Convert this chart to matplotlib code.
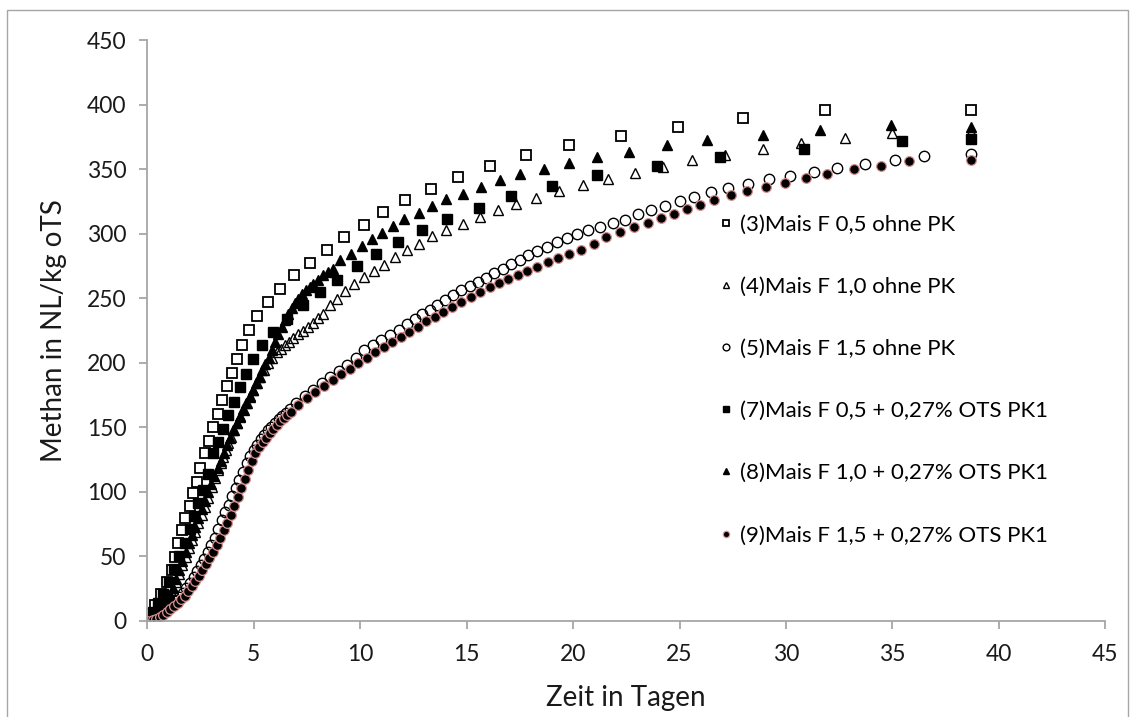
import matplotlib
matplotlib.use("Agg")
import matplotlib.pyplot as plt
from matplotlib.patches import Rectangle

plt.rcParams['font.family'] = ['Lato', 'DejaVu Sans']

# (Tage, NL/kg oTS)
s3 = [(0, 0), (0.16, 5), (0.36, 12), (0.63, 21), (0.91, 29.7), (1.15, 39), (1.3, 49.6),
      (1.45, 60), (1.62, 70.3), (1.79, 79.3), (2.0, 88.8), (2.16, 98.7), (2.32, 107.7),
      (2.48, 118), (2.71, 129.7), (2.91, 139.4), (3.1, 149.8), (3.31, 160.6), (3.53, 171),
      (3.76, 181.8), (3.97, 192.1), (4.2, 203.2), (4.44, 214.1), (4.78, 225.2), (5.14, 236),
      (5.66, 247.1), (6.21, 256.9), (6.9, 267.8), (7.65, 277.6), (8.43, 287.6), (9.25, 297.5),
      (10.16, 307), (11.07, 316.6), (12.12, 325.9), (13.34, 334.4), (14.58, 343.9),
      (16.08, 352.4), (17.8, 361.3), (19.81, 369), (22.24, 375.6), (24.94, 383.1),
      (27.97, 389.8), (31.82, 396.2), (38.7, 396.2)]

s4 = [(0, 0), (0.15, 1), (0.3, 3), (0.45, 5), (0.6, 8), (0.75, 11), (0.9, 15), (1.05, 19.5),
      (1.2, 24), (1.35, 30), (1.5, 36.5), (1.65, 43), (1.8, 49.5), (1.95, 56), (2.1, 62.5),
      (2.25, 69), (2.4, 75.5), (2.55, 82), (2.7, 88.5), (2.85, 95), (3.03, 103.8), (3.18, 110.5),
      (3.34, 117), (3.46, 122), (3.57, 127), (3.69, 132), (3.81, 137.4), (3.93, 142.5),
      (4.04, 147.7), (4.2, 153), (4.36, 158), (4.52, 163), (4.67, 168.4), (4.83, 173.5),
      (4.98, 178.7), (5.14, 184), (5.3, 189), (5.5, 194.5), (5.69, 199.4), (5.88, 204),
      (6.08, 208), (6.27, 211), (6.47, 213.5), (6.66, 216), (6.86, 219), (7.1, 222),
      (7.33, 224.5), (7.56, 227.5), (7.8, 231), (8.04, 234.5), (8.27, 238.1), (8.59, 244.5),
      (8.93, 249.7), (9.29, 255.4), (9.73, 260.8), (10.16, 266.5), (10.63, 271.1),
      (11.13, 276.1), (11.65, 282), (12.2, 287.1), (12.74, 292.3), (13.37, 298.2),
      (14.04, 303.2), (14.81, 307.8), (15.64, 313), (16.46, 318.1), (17.32, 323.3),
      (18.27, 327.9), (19.32, 333.1), (20.47, 338), (21.64, 342.7), (22.93, 347),
      (24.23, 351.7), (25.6, 357.4), (27.16, 361.3), (28.9, 365.9), (30.7, 370.3),
      (32.79, 374.1), (35.0, 378), (38.7, 378.8)]

s5 = [(0, 0), (0.17, 0.5), (0.33, 1.5), (0.5, 3), (0.67, 5), (0.83, 7.5), (1.0, 10.5),
      (1.17, 13), (1.33, 15.5), (1.5, 18), (1.67, 21.5), (1.83, 25.5), (2.0, 29.5), (2.17, 34),
      (2.33, 38.5), (2.5, 43), (2.67, 48), (2.83, 53), (3.0, 58.5), (3.17, 64.5), (3.33, 71),
      (3.5, 78), (3.67, 84), (3.83, 90), (4.0, 96.5), (4.17, 103), (4.33, 109), (4.5, 115.5),
      (4.67, 122), (4.83, 128), (5.0, 132.5), (5.17, 136.5), (5.33, 140.5), (5.5, 144),
      (5.67, 147.5), (5.83, 150.5), (6.0, 153.5), (6.17, 156), (6.33, 158.5), (6.5, 161),
      (6.7, 164), (7.0, 168.5), (7.4, 174), (7.8, 179), (8.2, 184), (8.6, 189), (9.0, 193.5),
      (9.4, 198.5), (9.8, 204), (10.2, 209.5), (10.6, 213.5), (11.0, 217.5), (11.4, 221.5),
      (11.8, 225.5), (12.2, 230), (12.59, 234), (12.9, 237.5), (13.26, 241), (13.6, 245),
      (14.0, 248.5), (14.36, 252.5), (14.75, 256), (15.14, 259.3), (15.53, 262.6),
      (15.91, 266), (16.3, 269.6), (16.69, 273), (17.08, 276.3), (17.49, 280), (17.9, 283.3),
      (18.32, 286.6), (18.76, 290), (19.23, 293.5), (19.72, 297), (20.2, 300), (20.7, 302.5),
      (21.28, 305.5), (21.88, 308.5), (22.46, 311), (23.04, 315), (23.66, 318.3),
      (24.33, 321.6), (25.0, 325.3), (25.7, 328.6), (26.5, 332), (27.3, 335.6), (28.2, 338.4),
      (29.2, 342.1), (30.2, 344.6), (31.3, 347.7), (32.4, 351), (33.7, 354), (35.1, 357.5),
      (36.5, 360.2), (38.7, 361.5)]

s7 = [(0, 0), (0.25, 7), (0.5, 14), (0.75, 21), (1.0, 30), (1.25, 40), (1.5, 50), (1.75, 60),
      (2.0, 71), (2.2, 81), (2.4, 91), (2.6, 101), (2.85, 114), (3.1, 129.7), (3.34, 138.7),
      (3.57, 149), (3.81, 159.3), (4.08, 169.6), (4.36, 180.8), (4.63, 191.6), (4.96, 202.7),
      (5.38, 213.6), (5.92, 223.9), (6.58, 234.2), (7.29, 244.5), (8.12, 254.8), (8.93, 264.4),
      (9.84, 275), (10.74, 284.6), (11.77, 293.3), (12.9, 303.2), (14.07, 311.7),
      (15.56, 320.2), (17.1, 329), (19.0, 337), (21.13, 345.2), (23.92, 352.5),
      (26.89, 359.4), (30.84, 365.4), (35.47, 371.6), (38.7, 373.4)]

s8 = [(0, 0), (0.15, 1), (0.3, 3), (0.45, 5), (0.6, 8), (0.75, 11), (0.9, 15), (1.05, 20),
      (1.2, 25.5), (1.35, 32), (1.5, 39), (1.65, 46), (1.8, 53), (1.95, 60), (2.1, 66.5),
      (2.25, 73), (2.4, 80), (2.55, 86.5), (2.7, 93), (2.85, 99.5), (3.0, 106), (3.15, 112),
      (3.3, 118), (3.45, 124), (3.6, 130), (3.75, 136), (3.9, 142), (4.05, 148), (4.2, 153.5),
      (4.35, 159), (4.5, 164), (4.65, 169), (4.8, 174), (4.95, 179), (5.1, 184), (5.25, 189),
      (5.4, 194), (5.55, 199), (5.7, 204), (5.85, 209.5), (6.0, 216), (6.16, 222.6),
      (6.32, 228), (6.47, 233.5), (6.63, 238), (6.79, 242.4), (6.95, 246), (7.1, 249.7),
      (7.28, 253), (7.46, 256.2), (7.63, 259), (7.8, 261.3), (8.02, 264.5), (8.25, 267.8),
      (8.48, 270.5), (8.72, 273), (9.06, 279.4), (9.56, 284.6), (10.08, 290.5),
      (10.55, 296.2), (11.02, 300.8), (11.52, 306), (12.07, 311.7), (12.74, 316),
      (13.37, 321.2), (14.04, 326.6), (14.81, 331), (15.67, 336.2), (16.58, 341.4),
      (17.52, 346), (18.62, 350.4), (19.83, 355), (21.13, 359.4), (22.61, 363.3),
      (24.42, 368.5), (26.27, 372.9), (28.9, 376.2), (31.58, 380.1), (34.93, 384),
      (38.7, 382.6)]

s9 = [(0, 0), (0.25, 0.5), (0.42, 1.5), (0.58, 3), (0.75, 4.5), (0.92, 6.5), (1.08, 9),
      (1.25, 11.5), (1.42, 14), (1.58, 16.5), (1.75, 19.5), (1.92, 23), (2.08, 27), (2.25, 31),
      (2.42, 35), (2.58, 39.5), (2.75, 44), (2.92, 48.5), (3.08, 53.5), (3.25, 58.5),
      (3.42, 64), (3.58, 70), (3.75, 76), (3.92, 82), (4.08, 89), (4.25, 96), (4.42, 103),
      (4.58, 110), (4.75, 117), (4.92, 124), (5.08, 130), (5.25, 134.5), (5.42, 138.5),
      (5.58, 142), (5.75, 145.5), (5.92, 148.5), (6.08, 151.5), (6.25, 154.5), (6.42, 157),
      (6.58, 159.5), (6.75, 162), (7.1, 167), (7.5, 172.5), (7.9, 177.5), (8.3, 182),
      (8.7, 186.5), (9.1, 191), (9.5, 195.5), (9.9, 200), (10.3, 204), (10.7, 208),
      (11.1, 212), (11.5, 216), (11.9, 220), (12.3, 224), (12.7, 228), (13.1, 232),
      (13.5, 235.5), (13.9, 239), (14.3, 243), (14.75, 247), (15.2, 251), (15.64, 254.8),
      (16.08, 258.5), (16.52, 262), (16.96, 265), (17.4, 268), (17.84, 271.1), (18.3, 274.5),
      (18.8, 278), (19.3, 281), (19.83, 284), (20.38, 287.1), (20.97, 292), (21.56, 297.4),
      (22.22, 301.3), (22.85, 305.2), (23.51, 308.6), (24.12, 312.5), (24.73, 315.6),
      (25.33, 319.1), (25.94, 322.5), (26.64, 325.9), (27.43, 329.7), (28.18, 332.8),
      (29.07, 336.1), (29.95, 339.7), (30.92, 343.4), (31.92, 346.2), (33.18, 349.8),
      (34.46, 352.7), (35.8, 356), (38.7, 356.8)]

labels = ["(3)Mais F 0,5 ohne PK", "(4)Mais F 1,0 ohne PK", "(5)Mais F 1,5 ohne PK",
          "(7)Mais F 0,5 + 0,27% OTS PK1", "(8)Mais F 1,0 + 0,27% OTS PK1",
          "(9)Mais F 1,5 + 0,27% OTS PK1"]

fig = plt.figure(figsize=(11.35, 7.17), dpi=100)
ax = fig.add_axes([0.1298, 0.1343, 0.8440, 0.8096])

styles = [
    dict(marker='s', ms=7.5, mfc='none', mec='black', mew=1.3),
    dict(marker='^', ms=7, mfc='none', mec='black', mew=1.0),
    dict(marker='o', ms=7.5, mfc='none', mec='black', mew=1.0),
    dict(marker='s', ms=7.5, mfc='black', mec='black', mew=1.0),
    dict(marker='^', ms=7.5, mfc='black', mec='black', mew=1.0),
    dict(marker='o', ms=7, mfc='black', mec='#d99090', mew=0.9),
]
for data, lab, st in zip([s3, s4, s5, s7, s8, s9], labels, styles):
    xs = [p[0] for p in data]
    ys = [p[1] for p in data]
    ax.plot(xs, ys, linestyle='none', label=lab, **st)

ax.set_xlim(0, 45)
ax.set_ylim(0, 450)
ax.set_xticks(range(0, 46, 5))
ax.set_yticks(range(0, 451, 50))
ax.spines['top'].set_visible(False)
ax.spines['right'].set_visible(False)
for sp in ['left', 'bottom']:
    ax.spines[sp].set_color('#a6a6a6')
    ax.spines[sp].set_linewidth(1.3)
ax.tick_params(axis='both', direction='out', length=6, width=1.3, color='#a6a6a6',
               labelsize=16.5, labelcolor='#1a1a1a', pad=9)
ax.tick_params(axis='x', pad=11)
ax.set_xlabel("Zeit in Tagen", fontsize=20, color='#1a1a1a', labelpad=14)
ax.set_ylabel("Methan in NL/kg oTS", fontsize=20, color='#1a1a1a', labelpad=14)
ax.patch.set_visible(False)

ax.legend(loc='upper left', bbox_to_anchor=(0.597, 0.70), frameon=False, fontsize=16,
          markerscale=0.65, handlelength=0.6, handletextpad=0.35, labelspacing=1.9,
          borderpad=0, borderaxespad=0)

fig.patches.append(Rectangle((7 / 1135, -0.01), 1121 / 1135, 1 - 10 / 717 + 0.01,
                             transform=fig.transFigure, fill=False,
                             edgecolor='#a6a6a6', lw=1.0))

fig.savefig("out.png", dpi=100)
